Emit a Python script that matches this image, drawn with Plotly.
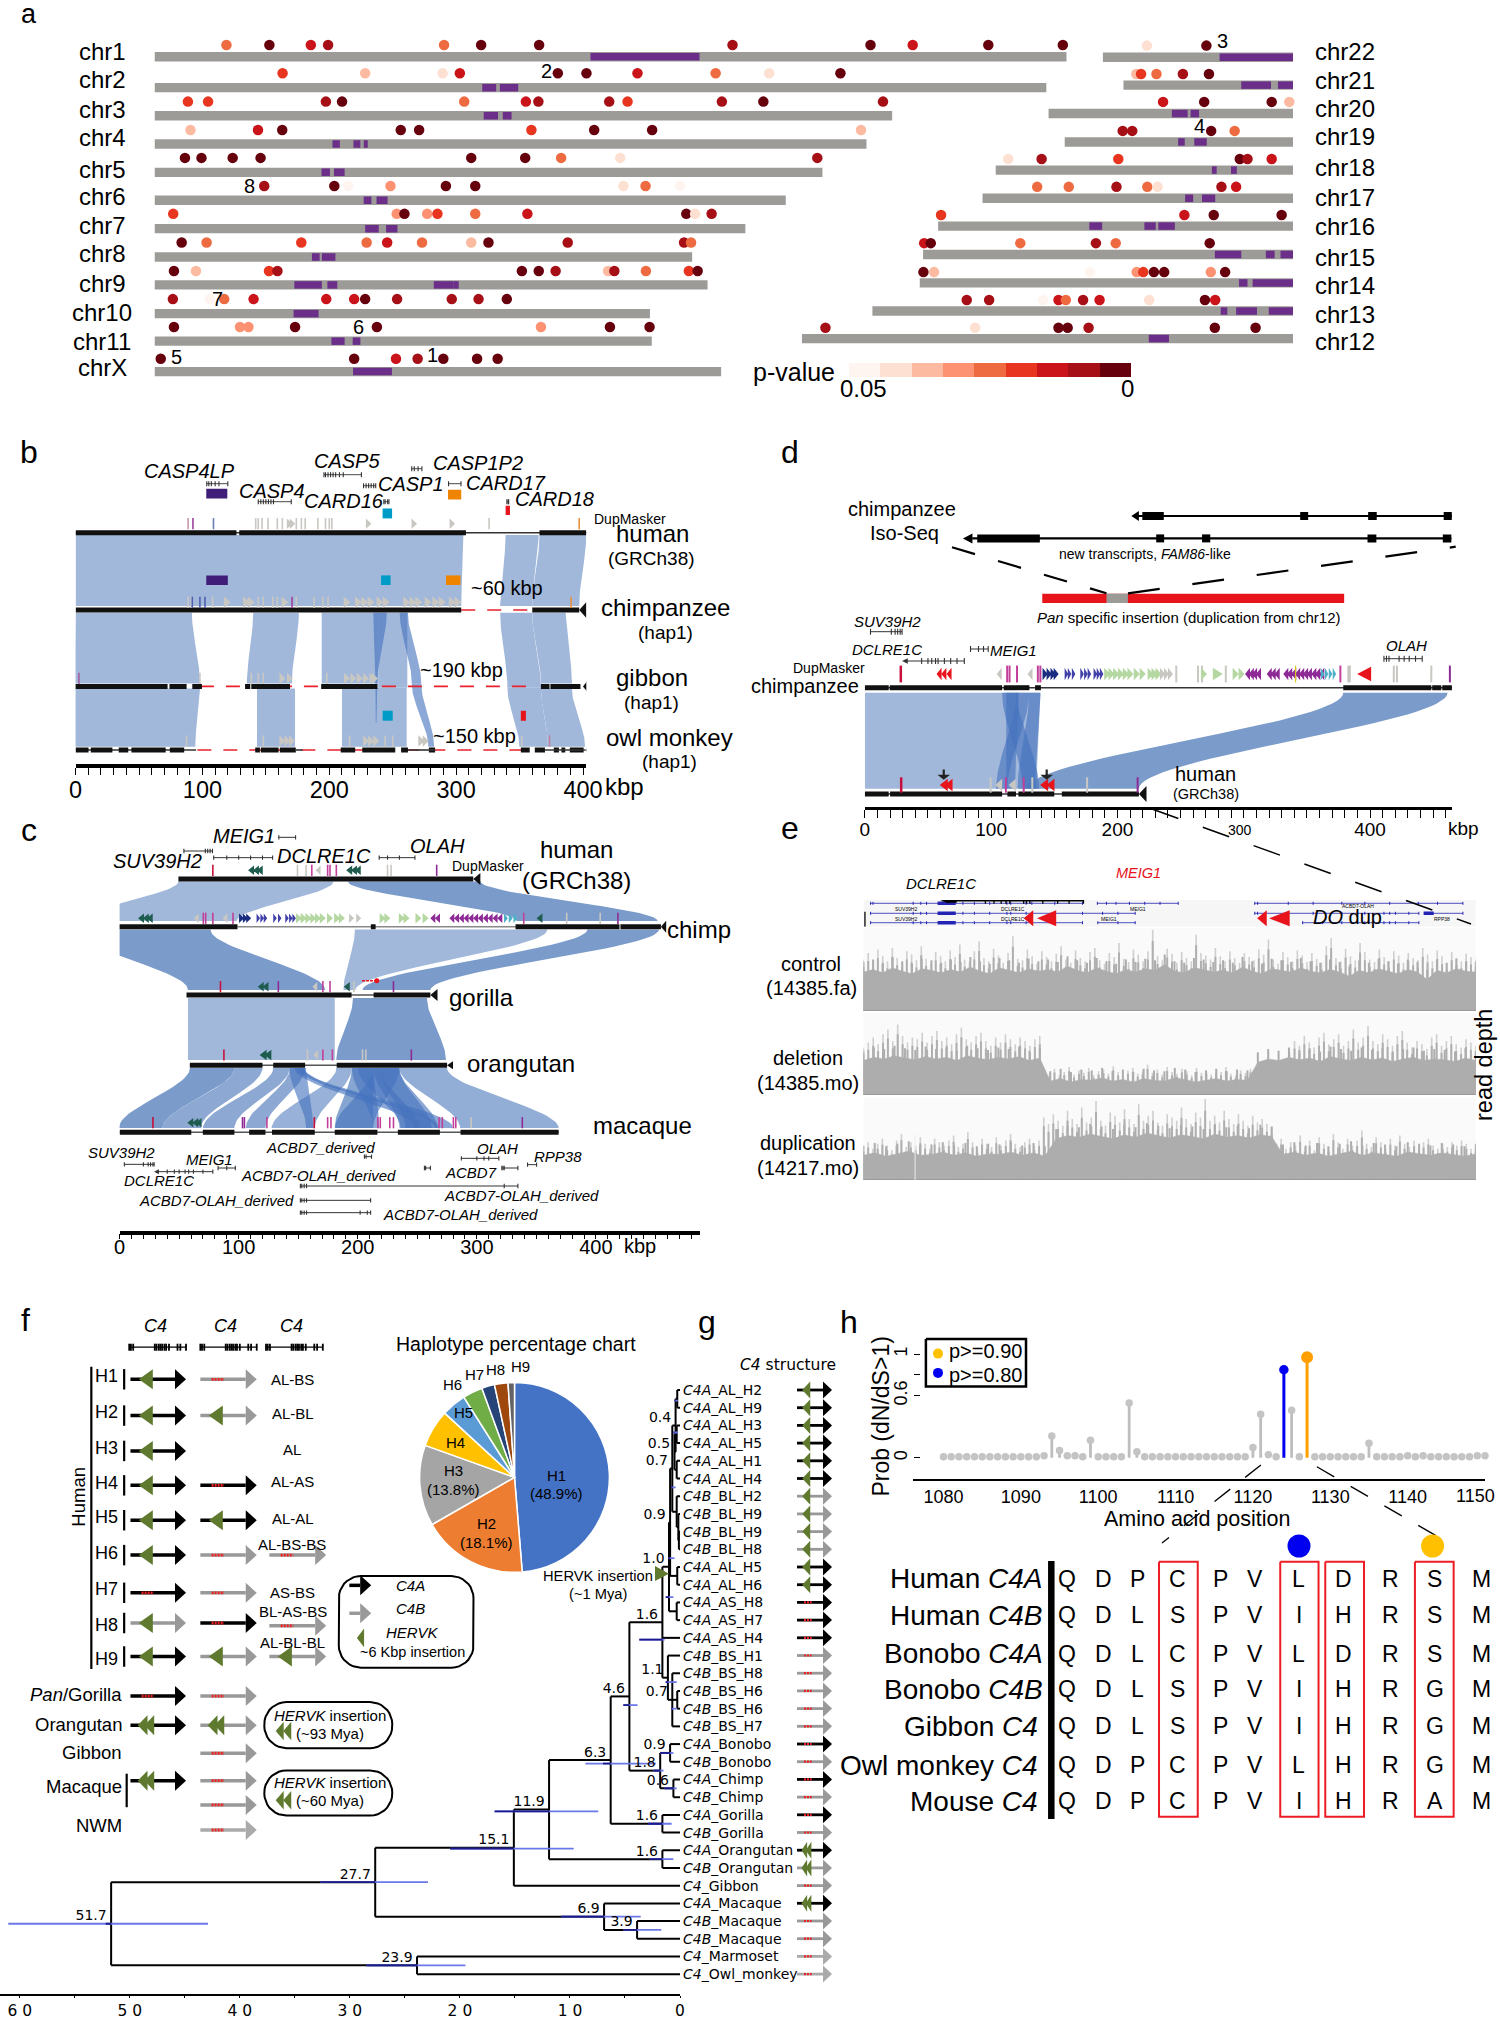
import numpy as np
import plotly.graph_objects as go

W, H = 1500, 2019
SANS = "Liberation Sans"
WIDE = "DejaVu Sans"
GREY_BAR = "#9C9B97"
PURPLE = "#6B2F8A"
LIGHT = "#A1B8DB"
MID = "#7B9CCB"
CROSS = "rgba(70,115,190,0.62)"
TICK_GREY = "#C9C7C2"
CRIMSON = "#C8103C"
PINK = "#C2409A"
DTEAL = "#1E5C50"
NAVY = "#1A2C80"
BLUE2 = "#4040A8"
GREEN2 = "#B5D8A2"
PURP2 = "#8E2A96"
CYAN2 = "#50B0C8"
RED = "#E8141C"

# ---------------- panel a data ----------------
REDS = ["#fff5f0", "#fee0d2", "#fcbba1", "#fc9272", "#ee6a41", "#e8351f", "#cb141a", "#a50f15", "#67000d"]

left_names = ["chr1", "chr2", "chr3", "chr4", "chr5", "chr6", "chr7", "chr8", "chr9", "chr10", "chr11", "chrX"]
left_len = [248.5, 243, 201, 194, 182, 172, 161, 146.5, 150.7, 135, 135.5, 154.4]
left_row = [0, 1.09, 2.08, 3.07, 4.07, 5.05, 6.05, 7.05, 8.03, 9.04, 10.01, 11.08]
left_dot_row = [-.41, .58, 1.58, 2.58, 3.56, 4.55, 5.53, 6.54, 7.54, 8.53, 9.51, 10.63]
left_pos = [
    [19.6, 31.3, 42.6, 47.3, 78.9, 89, 104.8, 157.5, 195.1, 206.6, 227.2, 247.5],
    [34.9, 57.4, 78.5, 83.2, 109.9, 117.7, 131.6, 152.9, 167.5, 186.9],
    [9.1, 14.6, 46.7, 51.1, 84.4, 101.2, 104.6, 123.9, 128.9, 154.6, 165.9, 198.5],
    [9.8, 28.2, 34.8, 67.1, 72.1, 102.7, 119.8, 135.6, 192.5],
    [8.3, 12.8, 21.3, 28.9, 86.3, 101, 110.8, 126.9, 180.6],
    [29.9, 49, 52.8, 64.3, 79.4, 87.4, 127.8, 133.8, 143.2],
    [5.1, 66, 68.1, 74.3, 77.1, 87.4, 101.6, 144.9, 147.3, 151.8],
    [7.4, 14.2, 40, 57.8, 63.4, 72.9, 86.3, 91, 112.6, 144.3, 146.2],
    [5.3, 11.3, 31.2, 33.5, 100.1, 104.7, 109.3, 123.6, 125.3, 133.9, 145.6, 148],
    [5, 15.1, 19, 27, 46.8, 54.4, 57.4, 66.1, 81, 88.3, 96],
    [5.3, 23.3, 25.6, 38.3, 60.6, 105.3, 124.1, 134.9],
    [1.7, 54.4, 65.8, 71.7, 78.7, 87.9, 93.5],
]
left_p = [
    [.025, .003, .014, .008, .025, .003, .003, .008, .003, .014, .003, .003],
    [.019, .036, .042, .014, .003, .003, .014, .025, .042, .003],
    [.019, .019, .008, .003, .025, .014, .008, .008, .019, .008, .003, .008],
    [.036, .014, .003, .003, .003, .019, .003, .003, .036],
    [.003, .003, .003, .003, .003, .003, .025, .042, .008],
    [.008, .003, .047, .031, .003, .003, .042, .025, .047],
    [.019, .031, .003, .031, .019, .025, .014, .003, .042, .008],
    [.003, .025, .019, .025, .014, .025, .036, .003, .008, .008, .025],
    [.003, .036, .019, .008, .003, .003, .008, .036, .008, .025, .019, .003],
    [.008, .047, .025, .014, .014, .014, .003, .008, .008, .008, .003],
    [.003, .031, .031, .003, .003, .031, .003, .003],
    [.003, .003, .014, .008, .003, .003, .003],
]
left_seg = [
    [(118.8, 148.5)], [(89.3, 93.1), (94.1, 99.1)], [(89.7, 93.6), (94.9, 97.3)],
    [(48.5, 50.5), (54.2, 56.1), (57, 58.1)], [(45.5, 47.8), (48.9, 51.8)], [(57, 59.1), (60.5, 63.5)],
    [(57.4, 61.1), (63.1, 66.2)], [(42.9, 45), (45.6, 49.3)],
    [(38.1, 45.6), (47.1, 49.8), (76.1, 81.4), (81.4, 82.9)], [(37.9, 44.7)], [(48.2, 51.8), (54, 56.1)], [(54.1, 64.7)],
]
right_names = ["chr22", "chr21", "chr20", "chr19", "chr18", "chr17", "chr16", "chr15", "chr14", "chr13", "chr12"]
right_len = [51.8, 46.2, 66.6, 62.2, 81, 84.6, 96.7, 100.8, 101.7, 114.6, 133.8]
right_row = [.02, 1.0, 2.0, 3.0, 3.99, 4.98, 5.96, 6.96, 7.96, 8.95, 9.92]
right_dot_row = [-.39, .61, 1.59, 2.61, 3.6, 4.58, 5.57, 6.56, 7.58, 8.56, 9.54]
right_pos = [
    [12, 28.2], [3.5, 4.8, 9, 16.2, 23.3], [31.2, 42.4, 60.8, 65.6], [15.8, 18.4, 39.9, 46.3],
    [3.4, 12.5, 33.4, 66.5, 68.6, 75.2], [14.9, 23.5, 36.5, 44.9, 47.7, 65.1, 69.1], [.8, 67.1, 75.1, 93.6],
    [.3, 2.1, 26.5, 47.1, 52.5, 78.1], [1, 3.9, 46.4, 59.1, 60.9, 63.8, 66.6, 79.3, 83.2],
    [25.7, 31.8, 46.5, 50.7, 52.7, 57.4, 61.9, 75.4, 90.6, 93.4], [6.4, 47.2, 69.9, 72.4, 78.1, 112.5, 123.6],
]
right_p = [
    [.042, .003], [.036, .019, .025, .008, .003], [.014, .003, .003, .036], [.008, .008, .003, .025],
    [.042, .008, .019, .003, .008, .014], [.025, .025, .008, .025, .042, .008, .014], [.019, .014, .003, .003],
    [.014, .003, .025, .008, .025, .003], [.003, .036, .047, .031, .019, .003, .003, .031, .003],
    [.008, .008, .047, .014, .025, .008, .014, .042, .003, .014], [.008, .042, .003, .003, .008, .003, .003],
]
right_seg = [
    [(31.8, 52)], [(32.1, 40.2), (42.1, 46.4)], [(33.6, 37.9), (38.7, 41)], [(30.9, 32.7), (35.3, 38.7)],
    [(58.9, 60.2), (64.1, 65.7)], [(55.2, 57.4), (59.8, 63.4)], [(41.2, 44.7), (56.2, 59.3), (60, 64.5)],
    [(79.5, 86.7), (93.4, 95.8), (97.4, 101)], [(87, 89.3), (90.7, 102)], [(94.9, 96.7), (99.1, 104.8), (108, 114.9)],
    [(94.5, 100)],
]

# ---------------- panel e read depth (percent of track height, read by eye) ----------------
control_peak = [62,70,58,74,66,60,76,64,58,72,68,61,78,63,57,71,66,60,73,65,80,62,59,72,84,64,60,75,67,58,70,90,63,61,74,66,57,72,65,60,69,78,62,58,73,64,60,71,76,61,57,70,65,82,63,59,74,68,60,72,98,66,61,75,69,58,71,64,60,92,70,67,62,76,66,60,72,64,58,70,65,61,74,68,86,62,57,71,65,60,73,67,59,70,63,58,78,88,64,60,75,66,61,82,71,62,59,74,65,60,72,67,58,70,64,61,76,68,60,73,66,58,71,64,60,69,65,62]
control_floor = [47,50,46,52,48,45,51,49,46,50,47,53,48,45,52,49,46,51,48,50,47,54,49,46,52,48,45,50,47,51,49,56,48,46,52,50,47,49,46,53,48,45,51,49,47,52,48,46,50,47,42,49,46,51,48,45,50,47,38,49,46,51,48,47]
deletion_peak = [58,64,70,62,74,80,66,86,72,64,70,68,76,64,72,78,66,70,62,74,82,68,64,72,76,66,60,70,64,74,68,62,70,66,60,68,72,30,26,32,24,28,34,25,30,27,33,24,29,31,26,35,28,24,30,33,26,29,37,27,31,25,34,28,26,32,29,24,33,27,30,25,31,28,34,26,24,30,27,32,25,29,35,26,28,24,31,52,66,60,72,64,58,70,76,62,68,74,60,66,80,64,70,84,66,62,74,68,60,72,78,64,58,66,62,56,70,74,60,66,72,62,58,68,64,60]
deletion_floor = [42,46,44,48,45,43,47,44,46,42,48,45,43,46,44,47,42,45,17,20,16,19,18,21,17,19,16,20,18,17,21,19,16,18,20,17,19,18,40,44,42,46,43,45,41,47,44,42,46,43,45,41,44,46,42,44,43,41,45,42]
duplication_peak = [40,46,38,44,50,42,36,48,56,40,46,42,52,44,38,50,46,42,48,54,40,44,58,46,38,50,44,40,52,42,48,56,44,40,46,50,42,48,76,68,80,72,66,84,74,68,88,70,76,96,72,66,82,78,70,86,74,68,92,72,78,84,70,66,80,76,72,88,74,68,82,76,98,72,78,70,84,74,68,80,72,66,78,70,74,68,64,44,50,38,46,42,54,40,48,36,52,44,40,56,46,38,50,42,48,60,44,40,52,46,38,50,42,54,44,40,48,36,46,50,42,38,44,40,46,42,48,44,38,42]
duplication_floor = [30,33,29,32,35,30,31,34,30,33,29,32,31,34,30,33,29,50,54,52,56,53,50,55,52,57,54,51,55,53,50,56,52,54,51,55,53,31,34,30,33,29,32,35,30,33,31,29,34,32,30,33,31,29,32]

# ---------------- panel f/g data ----------------
pie_labels = ["H1", "H2", "H3", "H4", "H5", "H6", "H7", "H8", "H9"]
pie_values = [48.9, 18.1, 13.8, 6.4, 4.2, 3.4, 2.2, 2.3, 1.1]
pie_colors = ["#4472C4", "#ED7D31", "#A5A5A5", "#FFC000", "#5B9BD5", "#70AD47", "#264478", "#9E480E", "#636363"]
leaf_names = ["<i>C4A</i>_AL_H2", "<i>C4A</i>_AL_H9", "<i>C4A</i>_AL_H3", "<i>C4A</i>_AL_H5", "<i>C4A</i>_AL_H1", "<i>C4A</i>_AL_H4",
              "<i>C4B</i>_BL_H2", "<i>C4B</i>_BL_H9", "<i>C4B</i>_BL_H9", "<i>C4B</i>_BL_H8", "<i>C4A</i>_AL_H5", "<i>C4A</i>_AL_H6",
              "<i>C4A</i>_AS_H8", "<i>C4A</i>_AS_H7", "<i>C4A</i>_AS_H4", "<i>C4B</i>_BS_H1", "<i>C4B</i>_BS_H8", "<i>C4B</i>_BS_H6",
              "<i>C4B</i>_BS_H6", "<i>C4B</i>_BS_H7", "<i>C4A</i>_Bonobo", "<i>C4B</i>_Bonobo", "<i>C4A</i>_Chimp", "<i>C4B</i>_Chimp",
              "<i>C4A</i>_Gorilla", "<i>C4B</i>_Gorilla", "<i>C4A</i>_Orangutan", "<i>C4B</i>_Orangutan", "<i>C4</i>_Gibbon",
              "<i>C4A</i>_Macaque", "<i>C4B</i>_Macaque", "<i>C4B</i>_Macaque", "<i>C4</i>_Marmoset", "<i>C4</i>_Owl_monkey"]
leaf_struct = ["AK"] * 6 + ["BK"] * 4 + ["AK"] * 2 + ["AS"] * 3 + ["BS"] * 5 + ["AS", "BS", "AS", "BS", "AS", "BS", "AKK", "BKK", "BS", "AKK", "BS", "BS", "LS", "LS"]
n_AL = (0.4, [(0.25, [0, 1]), (0.5, [(0.3, [2, 3]), (0.3, [4, 5])])])
n_BL = (0.3, [6, (0.15, [7, (0.1, [8, 9])])])
n_07 = (0.7, [n_AL, n_BL])
n_09 = (0.9, [n_07, (0.25, [10, 11])])
n_10 = (1.0, [n_09, (0.3, [12, 13])])
n_11 = (1.1, [15, (0.7, [16, (0.25, [17, 18]), 19])])
n_16 = (1.6, [n_10, 14, n_11])
n_18 = (1.8, [(0.9, [20, 21]), (0.6, [22, 23])])
n_46 = (4.6, [n_16, n_18])
n_63 = (6.3, [n_46, (1.6, [24, 25])])
n_119 = (11.9, [n_63, (1.6, [26, 27])])
n_151 = (15.1, [n_119, 28])
n_277 = (27.7, [n_151, (6.9, [29, (3.9, [30, 31])])])
tree_root = (51.7, [n_277, (23.9, [32, 33])])
ci_row = [30.15, 27.8, 25.9, 23.8, 21.1, 17.8, 29.75, 30.5, 32.5, 14.1, 21.5, 20.5, 22.5, 24.5, 26.5, 16.5, 18, 11.7, 9.5, 5.5, 2.4, .6]
ci_hi = [61.05, 32.7, 20.9, 16.85, 8.6, 5.15, 10.8, 5.15, 28.5, 3.7, 2.4, 1.8, 1.4, 2.9, 2.75, 1.3, .8, 1.3, 1.05, .8, .6, .5]
ci_dk = [52.2, 32.7, 20.9, 16.85, 7, 5.15, 10.8, 5.15, 28.5, 3.7, 2.4, 1.8, 1.4, 2.9, 2.75, 1.3, .8, 1.3, 1.05, .8, .6, .5]
ci_node = [51.7, 27.7, 15.1, 11.9, 6.3, 4.6, 6.9, 3.9, 23.9, 1.6, 1.8, .9, .6, 1.6, 1.6, 1.1, .7, 1.0, .9, .7, .5, .4]
ci_lo = [42.9, 22.9, 9.66, 7.43, 2.2, 3.86, 3.57, 1.7, 19.5, 1.4, 1.5, .6, .3, .76, .6, .3, .3, .6, .5, .4, .2, .2]

# ---------------- panel h data ----------------
aa_pos = list(range(1080, 1151))
aa_prob = [.01,.01,.01,.01,.01,.01,.01,.01,.01,.01,.01,.01,.01,.02,.21,.07,.02,.02,.01,.17,.01,.01,.01,.01,.53,.06,.01,.01,.01,.01,
           .01,.01,.01,.01,.01,.01,.01,.01,.01,.01,.10,.42,.03,.01,.85,.46,.01,.97,.01,.01,.01,.01,.01,.01,.01,.14,.01,.01,.01,.01,
           .02,.01,.02,.01,.01,.01,.01,.01,.01,.02,.02]
aln_species = ["Human <i>C4A</i>", "Human <i>C4B</i>", "Bonobo <i>C4A</i>", "Bonobo <i>C4B</i>", "Gibbon <i>C4</i>", "Owl monkey <i>C4</i>", "Mouse <i>C4</i>"]
aln_seq = ["QDPCPVLDRSM", "QDLSPVIHRSM", "QDLCPVLDRSM", "QDLSPVIHRGM", "QDLSPVIHRGM", "QDPCPVLHRGM", "QDPCPVIHRAM"]

# ---------------- helpers ----------------
tr, anns, layout_axes = [], [], {}
_axn = [1]


def make_axes(px0, px1, py0, py1, xr, yr, xa=None, ya=None):
    _axn[0] += 1
    i = _axn[0]
    x = dict(domain=[px0 / W, px1 / W], range=xr, anchor=f"y{i}", visible=False, fixedrange=True, showgrid=False, zeroline=False)
    y = dict(domain=[1 - py1 / H, 1 - py0 / H], range=yr, anchor=f"x{i}", visible=False, fixedrange=True, showgrid=False, zeroline=False)
    if xa:
        x.update(xa)
    if ya:
        y.update(ya)
    layout_axes[f"xaxis{i}"] = x
    layout_axes[f"yaxis{i}"] = y
    return (f"x{i}", f"y{i}")


def line(ax, xs, ys, color="black", width=1.5, dash=None):
    tr.append(go.Scatter(x=xs, y=ys, mode="lines", xaxis=ax[0], yaxis=ax[1], hoverinfo="skip", cliponaxis=False,
                         line=dict(color=color, width=width, dash=dash)))


def poly(ax, xs, ys, color):
    tr.append(go.Scatter(x=xs, y=ys, mode="lines", fill="toself", fillcolor=color, xaxis=ax[0], yaxis=ax[1], hoverinfo="skip",
                         cliponaxis=False, line=dict(width=0, color=color)))


def rect(ax, x0, x1, y0, y1, color):
    poly(ax, [x0, x1, x1, x0, x0], [y0, y0, y1, y1, y0], color)


def units_per_px(ax):
    a = layout_axes["xaxis" + ax[0][1:]]
    return abs(a["range"][1] - a["range"][0]) / ((a["domain"][1] - a["domain"][0]) * W)


def marks(ax, xs, y, color=TICK_GREY, symbol="line-ns", size=8, lw=1.6, w=None):
    if symbol.startswith("triangle"):
        u = units_per_px(ax)
        dx = (w if w else size * .55) * u
        hh = size * .52
        px, py = [], []
        for c in xs:
            if symbol == "triangle-right":
                px += [c - dx / 2, c + dx / 2, c - dx / 2, c - dx / 2, None]
            else:
                px += [c + dx / 2, c - dx / 2, c + dx / 2, c + dx / 2, None]
            py += [y - hh, y, y + hh, y - hh, None]
        poly(ax, px, py, color)
        return
    tr.append(go.Scatter(x=xs, y=[y] * len(xs), mode="markers", xaxis=ax[0], yaxis=ax[1], hoverinfo="skip", cliponaxis=False,
                         marker=dict(symbol=symbol, size=size, color=color, line=dict(color=color, width=lw if symbol == "line-ns" else 0))))


def ribbon(ax, a0, a1, ya, b0, b1, yb, color=LIGHT):
    t = np.linspace(0, 1, 36)
    s = t * t * (3 - 2 * t)
    yy = ya + (yb - ya) * t
    left = a0 + (b0 - a0) * s
    right = a1 + (b1 - a1) * s
    poly(ax, list(left) + list(right[::-1]) + [left[0]], list(yy) + list(yy[::-1]) + [yy[0]], color)


def row(ax, blocks, y, thick=5, thin=None, thin_color="#333333", color="#111111"):
    if thin:
        line(ax, thin, [y, y], thin_color, 1.6)
    xs, ys = [], []
    for a, b in blocks:
        xs += [a, b, None]
        ys += [y, y, None]
    line(ax, xs, ys, color, thick)


def end_tri(ax, tip, base, y, h, color="#111111"):
    poly(ax, [tip, base, base, tip], [y, y - h, y + h, y], color)


def gene(ax, x0, x1, y, exons=(), h=2.5, color="#333333", lw=1.1, arrow=None, tw=1.1):
    line(ax, [x0, x1], [y, y], color, lw)
    xs, ys = [], []
    for e in list(exons):
        xs += [e, e, None]
        ys += [y - h, y + h, None]
    if xs:
        line(ax, xs, ys, color, tw)
    if arrow is not None:
        end_tri(ax, arrow[0], arrow[1], y, arrow[2], color)


def T(px, py, s, size=15, anchor="center", color="black", font=SANS, angle=0):
    anns.append(dict(x=px / W, y=1 - py / H, xref="paper", yref="paper", text=s, showarrow=False, xanchor=anchor, yanchor="middle",
                     font=dict(size=size, color=color, family=font), textangle=angle, borderpad=0, borderwidth=0))


def zz(ox, oy, sx, sy):
    return lambda x, y: (ox + x / sx, oy + y / sy)


z1 = zz(0, 0, 2.09, 3)
z2 = zz(750, 0, 2.09, 3)
z3 = zz(0, 420, 2.09, 3)
z4 = zz(0, 810, 2.09, 3)
z5 = zz(750, 430, 2.09, 3)
z6 = zz(750, 800, 2.09, 3)
z7 = zz(0, 1290, 2.376, 2.15)
z8 = zz(640, 1290, 3, 2.15)
z9 = zz(840, 1290, 2.376, 2.8)

# ---------------- panel a ----------------
cs = []
for i, c in enumerate(REDS[::-1]):
    cs += [[i / 9, c], [(i + 1) / 9, c]]
SX = 3.67
ya_r = [(400 - 56.7) / 28.42, (20 - 56.7) / 28.42]
axL = make_axes(154.5, 1100, 20, 400, [0, 945.5 / SX], ya_r)
axR = make_axes(700, 1293, 20, 400, [-593 / SX, 0], ya_r)
BW = .33
tr.append(go.Bar(orientation="h", x=left_len, y=left_row, base=0, width=BW, marker=dict(color=GREY_BAR, line=dict(width=0)), xaxis=axL[0], yaxis=axL[1], hoverinfo="skip"))
sx, sb, sy_ = [], [], []
for i, seg in enumerate(left_seg):
    for a, b in seg:
        sx.append(b - a); sb.append(a); sy_.append(left_row[i])
tr.append(go.Bar(orientation="h", x=sx, y=sy_, base=sb, width=BW * .8, marker=dict(color=PURPLE, line=dict(width=0)), xaxis=axL[0], yaxis=axL[1], hoverinfo="skip"))
tr.append(go.Bar(orientation="h", x=right_len, y=right_row, base=[-v for v in right_len], width=BW, marker=dict(color=GREY_BAR, line=dict(width=0)), xaxis=axR[0], yaxis=axR[1], hoverinfo="skip"))
sx, sb, sy_ = [], [], []
for i, seg in enumerate(right_seg):
    for a, b in seg:
        sx.append(b - a); sb.append(a - right_len[i]); sy_.append(right_row[i])
tr.append(go.Bar(orientation="h", x=sx, y=sy_, base=sb, width=BW * .8, marker=dict(color=PURPLE, line=dict(width=0)), xaxis=axR[0], yaxis=axR[1], hoverinfo="skip"))
xs, ys, cc = [], [], []
for i in range(len(left_pos)):
    xs += left_pos[i]; ys += [left_dot_row[i]] * len(left_pos[i]); cc += left_p[i]
tr.append(go.Scatter(x=xs, y=ys, mode="markers", xaxis=axL[0], yaxis=axL[1], hoverinfo="skip", cliponaxis=False,
                     marker=dict(size=10.5, color=cc, colorscale=cs, cmin=0, cmax=.05, line=dict(width=0))))
xs, ys, cc = [], [], []
for i in range(len(right_pos)):
    xs += [p - right_len[i] for p in right_pos[i]]; ys += [right_dot_row[i]] * len(right_pos[i]); cc += right_p[i]
tr.append(go.Scatter(x=xs, y=ys, mode="markers", xaxis=axR[0], yaxis=axR[1], hoverinfo="skip", cliponaxis=False,
                     marker=dict(size=10.5, color=cc, colorscale=cs, cmin=0, cmax=.05, line=dict(width=0))))
axP = make_axes(849, 1131, 363, 377, [.05, 0], [-.5, .5])
bin_centers = [.05 * (8.5 - i) / 9 for i in range(9)]
tr.append(go.Heatmap(z=[bin_centers], x=bin_centers, y=[0], colorscale=cs, zmin=0, zmax=.05, showscale=False, xaxis=axP[0], yaxis=axP[1], hoverinfo="skip"))
lab_ly = [51.7, 80, 109.3, 138, 169, 197, 225.3, 253.7, 284, 312.7, 341.3, 367.7]
for n, y in zip(left_names, lab_ly):
    T(102, y, n, 24)
lab_ry = [51.7, 80.3, 108.3, 136.7, 167.3, 197.7, 226.7, 257, 285.3, 314, 341.7]
for n, y in zip(right_names, lab_ry):
    T(1345, y, n, 24)
for f, x, y, s in [(z1, 903, 1065, "1"), (z1, 1142, 212, "2"), (z2, 988, 124, "3"), (z2, 940, 378, "4"), (z1, 368, 1070, "5"), (z1, 750, 982, "6"), (z1, 455, 897, "7"), (z1, 522, 558, "8")]:
    T(*f(x, y), s, 20)
T(*z2(92, 1115), "p-value", 25)
T(*z2(237, 1165), "0.05", 24)
T(*z2(790, 1165), "0", 24)

# ---------------- panel b ----------------
tick10 = lambda end: list(range(0, end + 1, 10))
def ax_x(end, size, labels=(0, 100, 200, 300, 400), ticklen=7.7, lw=3.5, standoff=0):
    vals = tick10(end)
    return dict(visible=True, showline=True, linecolor="black", linewidth=lw, ticks="outside", ticklen=ticklen, tickwidth=1, tickcolor="black",
                tickvals=vals, ticktext=[str(v) if v in labels else "" for v in vals], tickfont=dict(size=size, family=SANS, color="black"), tickangle=0,
                ticklabelstandoff=standoff)

axB = make_axes(75.6, 586.3, 430, 764, [0, 402.6], [231.3, -102.7], xa=ax_x(400, 23.5, standoff=-6))
RB = [0, 77.3, 153.7, 217.3]
for a in [(0, 305.7, 2.3, 0, 304, 73.3), (339, 365, 2.3, 334.7, 360, 73.3), (365.7, 402.6, 2.3, 360, 397, 73.3),
          (0, 91.7, 80, -1, 98, 150.7), (140, 176, 80, 135, 170.5, 150.7), (194, 238.5, 80, 194, 238.5, 150.7), (238.5, 261.5, 80, 238.5, 261.5, 155),
          (334.7, 360, 80, 340.4, 366.8, 155), (360, 386.4, 80, 366.8, 391.3, 150.7),
          (-1, 98, 155.7, -1, 94.3, 214), (143, 173, 155.7, 143, 173, 214), (210, 261, 155, 210, 261, 214),
          (340.4, 366.8, 155, 349.8, 372.5, 214), (366.8, 391.3, 155.7, 372.5, 401.6, 214)]:
    ribbon(axB, a[0], a[1], a[2], a[3], a[4], a[5], LIGHT)
ribbon(axB, 234.7, 245.3, 80, 236.4, 237.8, 150.7, CROSS)
ribbon(axB, 236.4, 237.8, 150.7, 236.6, 237.2, 190, CROSS)
ribbon(axB, 255.5, 262, 80, 265, 272.5, 150.7, CROSS)
ribbon(axB, 265, 272.5, 150.7, 278, 282.6, 214, CROSS)
for row_y, x0, x1 in [(RB[1], 304, 360), (RB[2], 98, 355), (RB[3], 96, 352)]:
    line(axB, [x0, x1], [row_y, row_y], "#E8202C", 1.6, dash="14px,12px")
row(axB, [(0, 126.8), (129, 307.7), (365.7, 402.6)], RB[0], thin=[0, 402.6])
row(axB, [(0, 304), (360, 397)], RB[1])
row(axB, [(-1, 72.5), (74, 87.5), (92, 99.6), (133.6, 137.7), (138.5, 169), (193.6, 238)], RB[2])
row(axB, [(366.8, 373.6), (374.3, 398)], RB[2])
row(axB, [(0, 10.2), (12, 29), (34, 41.5), (44, 71), (74.3, 85.6), (141.6, 145.3), (146, 160), (161, 173.6), (209, 220.4), (226, 252), (256.6, 262), (278.5, 283.4), (351, 358), (362, 370), (377, 381), (383, 386), (389.6, 400.5)], RB[3], thick=5, thin=[0, 95])
line(axB, [173.6, 179], [RB[3], RB[3]], "#333333", 1.6)
line(axB, [262, 283.4], [RB[3], RB[3]], "#333333", 1.6)
line(axB, [370, 402], [RB[3], RB[3]], "#333333", 1.6)
end_tri(axB, 402.6, 408, RB[0], 9)
end_tri(axB, 397, 402.7, RB[1], 8)
end_tri(axB, 400, 405.5, RB[2], 9)
end_tri(axB, 402, 407.5, RB[3], 10)
for x0, x1, y0, y1, c in [(103, 119.6, -44, -34.3, "#3F1D78"), (242, 249.5, -24.3, -14.3, "#009BC6"), (293.6, 304, -43, -33.3, "#EE8400"), (339, 342.4, -27, -17.7, RED),
                          (103, 120, 42.7, 52.3, "#3F1D78"), (240.8, 248.3, 42.7, 52.3, "#009BC6"), (292, 303.4, 42.7, 52.3, "#EE8400"),
                          (242, 250, 178, 188, "#009BC6"), (351, 355, 178, 188, RED)]:
    rect(axB, x0, x1, y0, y1, c)
b_genes = [(103.4, 120, -49, [103.4, 105, 107, 110, 113, 120]), (195.8, 225.3, -58, [195.8, 197, 199, 201, 203, 205, 208, 211, 225.3]),
           (265, 273, -64, [265, 267, 270, 273]), (227, 236.6, -47, [227, 229, 231, 233, 235, 236.6]), (294, 303.8, -49, [294, 303.8]),
           (144, 170, -31, [144, 146, 148, 150, 152, 154, 156, 170]), (243, 247, -31, [243, 244, 246, 247]), (340, 341.4, -31, [340, 341, 341.4])]
for g in b_genes:
    gene(axB, g[0], g[1], g[2], g[3], h=2.5, lw=.9)
marks(axB, [142, 144, 147, 151.7, 159, 163, 174, 178, 181, 191, 197, 200, 202, 326], -9)
marks(axB, [168.7, 171, 231, 267, 297], -9, symbol="triangle-right", size=10)
marks(axB, [88.7], -9, "#C899A8"); marks(axB, [92.5], -9, "#A040A0"); marks(axB, [108.7], -9, "#6780B0"); marks(axB, [397], -9, "#E89040")
marks(axB, [88.7, 91.3, 108, 144, 148, 155.5, 159, 174, 188, 195, 199], RB[1] - 7.7)
marks(axB, [92, 98, 102], RB[1] - 7.7, "#5060B0"); marks(axB, [170.6], RB[1] - 7.7, "#A040A0"); marks(axB, [390.6], RB[1] - 7.7, "#E89040")
marks(axB, [119.6, 134.7, 138.5, 165, 214, 223, 228, 233, 240, 245, 261, 266, 270.6, 278, 284, 289, 297, 301.5], RB[1] - 7.7, symbol="triangle-right", size=11, w=7)
marks(axB, [2.6], RB[2] - 8, "#A060A0"); marks(axB, [98, 138.5, 144, 148, 198], RB[2] - 8)
marks(axB, [163, 169, 214, 219, 224, 229, 234, 236], RB[2] - 8, symbol="triangle-right", size=11, w=6)
marks(axB, [87.5, 148, 216, 244, 250, 351.7], RB[3] - 9); marks(axB, [373.6], RB[3] - 9, "#C080A0")
marks(axB, [163, 167, 170.6, 229, 233, 237, 272.5, 276], RB[3] - 9, symbol="triangle-right", size=11, w=6)
for x, y, s in [(396, 152, "CASP4LP"), (725, 122, "CASP5"), (998, 130, "CASP1P2"), (568, 212, "CASP4"), (860, 192, "CASP1"), (1058, 188, "CARD17"), (718, 242, "CARD16"), (1158, 238, "CARD18")]:
    T(*z3(x, y), f"<i>{s}</i>", 20)
T(*z3(1317, 296), "DupMasker", 14)
for x, y, s, sz in [(1363, 342, "human", 24), (1362, 416, "(GRCh38)", 19), (1390, 563, "chimpanzee", 24), (1390, 638, "(hap1)", 19), (1363, 774, "gibbon", 24), (1362, 848, "(hap1)", 19), (1400, 952, "owl monkey", 24), (1400, 1025, "(hap1)", 19),
                    (1060, 503, "~60 kbp", 20), (965, 750, "~190 kbp", 20), (992, 948, "~150 kbp", 20), (1305, 1100, "kbp", 24)]:
    T(*z3(x, y), s, sz)

# ---------------- panel c ----------------
axC = make_axes(119.6, 699.5, 810, 1230.7, [0, 487], [351.7, -69], xa=ax_x(480, 20, ticklen=5, standoff=-9))
RC = [0, 47.7, 116, 186.3, 253.3]
ribbon(axC, 49.4, 179.5, 2.5, -38, 98.4, 42, LIGHT)
ribbon(axC, 191.6, 303.2, 2.5, 333.3, 451.8, 42, MID)
ribbon(axC, -39.4, 76.3, 50.5, 57.4, 172.7, 111, MID)
ribbon(axC, 197.6, 359.4, 50.5, 188, 198, 111, LIGHT)
ribbon(axC, 392.8, 453, 50.5, 204, 261, 111, MID)
ribbon(axC, 57.4, 180.7, 119, 57.4, 180.7, 181, LIGHT)
ribbon(axC, 196, 258.2, 119, 182, 274, 181, MID)
ribbon(axC, 59, 96.4, 189, -.8, 36.1, 249, MID)
ribbon(axC, 96.4, 120, 189, 36, 68.3, 249, "#8DA9D3")
ribbon(axC, 129, 143, 189, 70, 96.4, 249, "#8DA9D3")
ribbon(axC, 143, 155.8, 189, 106, 122.5, 249, "#8DA9D3")
ribbon(axC, 182, 195, 189, 127.7, 163.9, 249, "#98B1D8")
ribbon(axC, 195, 213, 189, 180.7, 212.9, 249, "#86A5D0")
ribbon(axC, 213, 235, 189, 235, 267, 249, "#8DA9D3")
ribbon(axC, 235, 275, 189, 286, 368.7, 249, "#92AED6")
for a in [(142.6, 156.6, 156.6, 162.6), (147, 155, 248, 268), (150, 155, 265, 280), (195, 213, 213, 218), (213, 235, 181, 213), (200, 218, 236, 252), (218, 235, 240, 262)]:
    ribbon(axC, a[0], a[1], 189, a[2], a[3], 249, CROSS)
row(axC, [(49.4, 297)], RC[0])
end_tri(axC, 297, 303, RC[0], 6)
row(axC, [(-42, 99), (211, 215), (332.5, 419.8), (420.6, 454.6)], RC[1], thin=[99, 333], thin_color="#888888")
end_tri(axC, 454.6, 459, RC[1], 6)
row(axC, [(56.2, 194.8), (213.3, 261)], RC[2], thin=[194, 214], thin_color="#555555")
end_tri(axC, 261, 267, RC[2], 6)
row(axC, [(59, 120), (129, 155.8), (182.3, 275)], RC[3], thin=[59, 275], thin_color="#555555")
end_tri(axC, 275, 280, RC[3], 4)
row(axC, [(0, 60.2), (69.9, 96.4), (108.8, 122.5), (128, 163.9), (180.7, 216.5), (233.7, 269), (286.3, 368.7)], RC[4], thin=[0, 368.7], thin_color="#555555")
yc = lambda z: (z - 207) / 3
for x0, x1, zy, ex, arr in [(54, 78, 123, [54, 72, 74, 76, 78], None), (133.7, 147.8, 82, [133.7, 147.8], None), (79, 128.5, 143, [79, 90, 100, 110, 120, 128.5], None), (218, 248, 143, [218, 225, 235, 248], None),
                            (4, 29, 1063, [4, 20, 24, 26, 28, 29], None), (32, 78.3, 1085, [40, 46, 50, 55, 58, 62, 70, 78.3], (29, 33, 2.5)), (82.7, 97.2, 1074, [82.7, 90, 97.2], None),
                            (205.6, 211.6, 1040, [205.6, 207, 211.6], None), (256, 261, 1074, [256, 257, 261], None), (287, 318.5, 1045, [287, 300, 306, 310, 318.5], None), (321, 334.5, 1074, [321, 322, 323, 334.5], None),
                            (342.6, 350.2, 1064, [342.6, 350.2], None), (151.8, 334.5, 1128, [151.8, 153, 155, 157, 323, 334.5], None), (151.8, 210.8, 1171, [151.8, 153, 155, 157, 210.8], None), (151.8, 210.8, 1208, [151.8, 153, 155, 157, 202, 208, 210.8], None)]:
    gene(axC, x0, x1, yc(zy), ex, h=2.2, lw=1, arrow=arr)
marks(axC, [78.3], -8.7, CRIMSON, size=8); marks(axC, [110.4, 114.5, 117.7, 192.8, 196.8, 200], -8.7, DTEAL, "triangle-left", 9, w=6)
marks(axC, [149.4, 156.6, 225, 228], -8.7); marks(axC, [166.7], -8.7, TICK_GREY, "triangle-left", 9); marks(axC, [161.4, 174.7, 176.7, 182], -8.7, PINK, size=8); marks(axC, [266.3], -8.7, PURP2, size=8)
y1 = 39.3
line(axC, [-14, -14], [y1 - 4, y1 + 4], CRIMSON, 2)
marks(axC, [18, 22, 25.3, 352.6], y1, DTEAL, "triangle-left", 9, w=6)
marks(axC, [64.3, 88.4], y1, TICK_GREY, "triangle-left", 9); marks(axC, [70.3, 72.3, 78.3, 95.2, 339.4], y1, PINK, size=8)
marks(axC, [102.4, 105.6, 108.4], y1, NAVY, "triangle-right", 9); marks(axC, [116.5, 119.7, 122.5, 130.5, 134.5, 140.6, 143.8, 146.6], y1, BLUE2, "triangle-right", 9, w=3.5)
marks(axC, [150.6, 154.6, 158.6, 162.7, 166.7, 170.7, 176.7, 182.7, 186.7, 220.9, 224.9, 237, 241, 251, 257], y1, GREEN2, "triangle-right", 10, w=6)
marks(axC, [194.8, 200.8], y1, TICK_GREY, "triangle-right", 9); marks(axC, [263, 267, 279, 283, 287, 291, 295, 299, 303, 307.2, 311.2, 315.3, 319.3], y1, PURP2, "triangle-left", 9, w=5)
marks(axC, [324.5, 328.5, 332.5], y1, CYAN2, "triangle-right", 9, w=4); marks(axC, [375.5, 403.6], y1); marks(axC, [418.5], y1, PURP2, size=8)
y2 = 107.7
marks(axC, [84.7], y2, CRIMSON, size=8); marks(axC, [118.5, 122.5, 190.8], y2, DTEAL, "triangle-left", 9, w=6); marks(axC, [133.3, 230], y2, PURP2, size=8); marks(axC, [163.9], y2, TICK_GREY, "triangle-left", 9); marks(axC, [170.7, 176.7], y2, PINK, size=8); marks(axC, [196.8], y2)
line(axC, [203.6, 216], [101.7, 101.7], RED, 1.6, dash="3px,1px"); marks(axC, [216], 101.7, RED, "circle", 5)
y3 = 176
marks(axC, [87.6], y3, CRIMSON, size=8); marks(axC, [120.5, 124.5], y3, DTEAL, "triangle-left", 10, w=7); marks(axC, [157.8, 204, 206.8], y3); marks(axC, [164.7], y3, TICK_GREY, "triangle-left", 9); marks(axC, [170.7, 178.7], y3, PINK, size=8); marks(axC, [245], y3, PURP2, size=8)
y4 = 243.7
marks(axC, [28], y4, CRIMSON, size=8); marks(axC, [59.4, 63.5, 66.3], y4, DTEAL, "triangle-left", 9, w=6); marks(axC, [103.2, 104.8, 338.2], y4, PURP2, size=8)
marks(axC, [123.7, 174.7, 177.5, 216.9, 218.9, 226.9, 230, 268.3, 271, 280.3, 282.3], y4, PINK, size=8); marks(axC, [163.5], y4, CRIMSON, size=8); marks(axC, [295.2], y4)
for x, y, s, sz in [(330, 153, "SUV39H2", 20), (510, 78, "MEIG1", 20), (678, 137, "DCLRE1C", 20), (915, 107, "OLAH", 20),
                    (253, 1027, "SUV39H2", 15), (437, 1047, "MEIG1", 15), (670, 1012, "ACBD7_derived", 15), (1040, 1015, "OLAH", 15), (1167, 1038, "RPP38", 15), (333, 1112, "DCLRE1C", 15),
                    (665, 1096, "ACBD7-OLAH_derived", 15), (985, 1088, "ACBD7", 15), (1090, 1157, "ACBD7-OLAH_derived", 15), (453, 1170, "ACBD7-OLAH_derived", 15), (962, 1213, "ACBD7-OLAH_derived", 15)]:
    T(*z4(x, y), f"<i>{s}</i>", sz)
for x, y, s, sz in [(1020, 168, "DupMasker", 14), (1205, 118, "human", 24), (1205, 212, "(GRCh38)", 24), (1460, 360, "chimp", 24), (1007, 562, "gorilla", 24), (1088, 760, "orangutan", 24), (1342, 946, "macaque", 24), (1337, 1308, "kbp", 20)]:
    T(*z4(x, y), s, sz)

# ---------------- panel d ----------------
axD = make_axes(864.8, 1451.9, 430, 807.3, [0, 464.8], [119.6, -257.7], xa=ax_x(460, 19, labels=(0, 100, 200, 400), ticklen=7.7, lw=2.5, standoff=-5))
RD = [0, 106.3]
ribbon(axD, 0, 139, 5, 0, 136, 101, LIGHT)
ribbon(axD, 378.8, 461.4, 5, 128.8, 217, 101, MID)
for a in [(108.7, 120.5, 125, 138), (120, 130, 104, 113), (130, 139, 121, 135), (112, 122, 112, 119)]:
    ribbon(axD, a[0], a[1], 5, a[2], a[3], 101, CROSS)
row(axD, [(0, 18.9), (19.7, 108.7), (110, 130.3), (134.8, 139.4), (378.8, 448.5), (449.2, 456.4), (457.2, 465.2)], RD[0], thin=[0, 465])
end_tri(axD, 465.2, 470, RD[0], 8)
row(axD, [(0, 18.9), (20, 108.7), (112.9, 119.7), (121.6, 150), (156, 217)], RD[1], thin=[0, 217])
end_tri(axD, 217, 223, RD[1], 8)
Y1, Y2 = -171.7, -149.3
line(axD, [216, 464.8], [Y1, Y1], "black", 2.2)
for a, b in [(219.7, 236.7), (344.7, 351), (398.5, 405.3), (458.3, 464.8)]:
    rect(axD, a, b, Y1 - 4, Y1 + 4, "black")
end_tri(axD, 211, 217, Y1, 5, "black")
line(axD, [85, 464.4], [Y2, Y2], "black", 2.2)
for a, b in [(89, 138.6), (230.7, 237), (267, 273.5), (398, 405), (457.6, 464.4)]:
    rect(axD, a, b, Y2 - 4, Y2 + 4, "black")
end_tri(axD, 77.7, 85.2, Y2, 5, "black")
rect(axD, 140.5, 379.5, -94, -84.7, RED)
rect(axD, 191.3, 208.3, -94, -84.7, GREY_BAR)
gene(axD, 4.5, 29.5, -56, [4.5, 21, 24, 26, 28, 29.5], lw=1, h=3)
gene(axD, 33, 78.8, -26.7, [45, 50, 53, 56, 58, 63, 68, 73, 78.8], lw=1, h=3, arrow=(29.5, 34, 2.8))
gene(axD, 83.7, 97.7, -38.7, [83.7, 90, 94, 97.7], lw=1, h=3)
gene(axD, 411, 441.3, -29, [411, 413, 415, 423, 427, 431, 436, 441.3], lw=1, h=3)
yD = -13.7
marks(axD, [28.5], yD, CRIMSON, size=12, lw=2.5); marks(axD, [58.8, 62.6, 66.7], yD, RED, "triangle-left", 12, w=5); marks(axD, [395.3], yD, RED, "triangle-left", 14, w=14)
marks(axD, [106.4, 130.8], yD, TICK_GREY, "triangle-left", 12, w=5); marks(axD, [112.7, 114.6, 120.5, 137, 139, 376.5], yD, PINK, size=12, lw=2)
marks(axD, [382.8, 384, 418.8, 421.3, 246.6, 263.8, 267, 285.8, 448.5], yD, size=12, lw=2)
marks(axD, [142.7, 145.9, 149, 151.5], yD, NAVY, "triangle-right", 12, w=5); marks(axD, [159.6, 162.1, 165.3, 172, 175, 177.8, 182.5, 185, 187.5], yD, BLUE2, "triangle-right", 12, w=3.5)
marks(axD, [191.9, 195.3, 199, 202.8, 206.6, 210.3, 215.3, 220, 226.3, 229.4, 232.5, 268.5, 293.6, 298.3], yD, GREEN2, "triangle-right", 12, w=6)
marks(axD, [279.5], yD, GREEN2, "triangle-right", 12, w=10); marks(axD, [235.7, 238.8, 242], yD, TICK_GREY, "triangle-right", 12, w=5)
marks(axD, [303, 306, 308.6, 311.7, 320.2, 323.3, 326.5, 333.3, 336.4, 339.6, 342.7, 345.9, 349, 352, 355.5, 358.6, 361.8], yD, PURP2, "triangle-left", 12, w=5)
marks(axD, [341], yD, "#D8C820", size=12, lw=1.2)
marks(axD, [362.4, 365.6, 368.7, 371.8], yD, CYAN2, "triangle-right", 12, w=3.5); marks(axD, [463.2], yD, PURP2, size=12, lw=2)
yH = 97.3
marks(axD, [28.8], yH, CRIMSON, size=11, lw=2.5); marks(axD, [62.5, 66.3, 142, 147], yH, RED, "triangle-left", 12, w=8); marks(axD, [99.6, 132.6, 176], yH, size=11, lw=2)
marks(axD, [106, 116.7], yH, TICK_GREY, "triangle-left", 12, w=7); marks(axD, [111.7, 125.8], yH, PINK, size=11, lw=2); marks(axD, [216], yH, PURP2, size=11, lw=2)
for k in [62.5, 144]:
    line(axD, [k, k], [81.7, 89], "#222222", 2.2)
    poly(axD, [k - 5, k + 5, k, k - 5], [87, 87, 92, 87], "#222222")
for x, y, s, sz in [(288, 575, "SUV39H2", 15), (287, 658, "DCLRE1C", 15), (550, 662, "MEIG1", 15), (1372, 647, "OLAH", 15)]:
    T(*z5(x, y), f"<i>{s}</i>", sz)
for x, y, s, sz in [(318, 238, "chimpanzee", 20), (322, 310, "Iso-Seq", 20), (825, 373, "new transcripts, <i>FAM86</i>-like", 14), (918, 561, "<i>Pan</i> specific insertion (duplication from chr12)", 15),
                    (165, 714, "DupMasker", 14), (115, 768, "chimpanzee", 20), (953, 1032, "human", 20), (953, 1092, "(GRCh38)", 14.5)]:
    T(*z5(x, y), s, sz)
T(*z6(1492, 85), "kbp", 19)
T(*z6(1025, 90), "300", 14)

# ---------------- panel e ----------------
axE0 = make_axes(863.4, 1475.8, 900, 926.7, [0, 320], [26.7, 0])
rect(axE0, 0, 320, 0, 26.7, "#F6F6F6")
blue = "#2424B4"
for x0, x1, y, ex in [(3.75, 114.5, 3.3, [3.75, 5, 26, 30, 33, 52, 58, 66, 75, 77, 85, 88, 100, 114.5]), (122.25, 164.5, 3.3, [122.25, 127, 132, 139, 147, 155, 164.5]), (204.5, 313.25, 3.3, [204.5, 206, 222, 235, 250, 262, 275, 290, 300, 313.25]),
                      (3.75, 142, 13.3, [3.75, 26, 30, 33, 52, 58, 66, 75, 77, 85, 88, 100, 114.5, 125, 133, 142]), (204.5, 290.25, 13.3, [204.5, 206, 222, 235, 250, 262, 272, 275, 278, 285, 290.25]), (292.75, 313.25, 13.3, [313.25]),
                      (3.75, 114.5, 22.7, [3.75, 26, 30, 33, 52, 58, 66, 75, 77, 85, 88, 100, 114.5]), (122.5, 142, 22.7, [122.5, 133, 142]), (229.5, 290.25, 22.7, [229.5, 240, 250, 262, 272, 275, 278, 285, 290.25])]:
    gene(axE0, x0, x1, y, ex, color=blue, lw=.8, h=1.5, tw=1)
for y in [3.3, 13.3, 22.7]:
    line(axE0, [38.75, 48.25], [y, y], blue, 3.5)
line(axE0, [292.75, 298], [13.3, 13.3], blue, 3.5)
gene(axE0, 44, 115, .7, [63.75, 68.25, 72, 74.5, 76.5, 83.75, 85.25, 87, 93.75, 101.5, 107.5, 115], h=3, color="black", lw=1.4, tw=1.3)
end_tri(axE0, 40.25, 45, .7, 2.5, "black")
line(axE0, [43.25, 48.75], [.7, .7], "black", 4)
gene(axE0, 123, 142.5, -11.7, [123, 133, 142.5], h=5, color="#222222", lw=1.2)
for a, b in [(83.75, 88.75), (90.75, 100.75), (205.75, 210.75), (212, 222.75)]:
    end_tri(axE0, a, b, 18.3, 8, RED)
line(axE0, [0.8, .8], [-48, -18], "#333333", 1.6)
line(axE0, [.8, .8], [11.7, 26.7], "#333333", 1.6)
tiny = [(327, 327, "SUV39H2"), (327, 357, "SUV39H2"), (550, 327, "DCLRE1C"), (550, 357, "DCLRE1C"), (810, 327, "MEIG1"), (750, 357, "MEIG1"), (1270, 318, "ACBD7-OLAH"), (1447, 357, "RPP38")]
for x, y, s in tiny:
    T(*z6(x, y), s, 5)
T(*z6(400, 250), "<i>DCLRE1C</i>", 15)
T(*z6(812, 218), "<i>MEIG1</i>", 14.5, color=RED)
T(*z6(1248, 352), "<i>DO</i> dup", 20)
depth_tracks = [(928, 1011, control_peak, control_floor), (1013, 1095, deletion_peak, deletion_floor), (1097.7, 1180, duplication_peak, duplication_floor)]
for top, bot, pk, fl in depth_tracks:
    axT = make_axes(863.4, 1475.8, top, bot, [0, 320], [0, 100])
    rect(axT, 0, 320, 0, 100, "#FAFAFA")
    xp = np.linspace(0, 320, len(pk))
    xf = np.linspace(0, 320, len(fl))
    sxs, sys = [], []
    for a, b in zip(xp, pk):
        sxs += [a, a, None]
        sys += [0, b, None]
    line(axT, sxs, sys, "#CFCFCF", 1.6)
    sxs2, sys2 = [], []
    for a, b in zip(xp, pk):
        sxs2 += [a, a, None]
        sys2 += [0, b * .86, None]
    line(axT, sxs2, sys2, "#AFAFAF", 2.0)
    tr.append(go.Scatter(x=xf, y=fl, mode="lines", fill="tozeroy", fillcolor="#ADADAD", line=dict(width=.4, color="#ADADAD"), xaxis=axT[0], yaxis=axT[1], hoverinfo="skip"))
    sxs, sys = [], []
    for a, b in zip(xf, fl):
        sxs += [a, a, None]
        sys += [0, b + 12, None]
    line(axT, sxs, sys, "#ADADAD", 2)
    line(axT, [0, 320], [0, 0], "#999999", 1.8)
    if pk is duplication_peak:
        line(axT, [27, 27], [0, 55], "#EDEDED", 1)
for x, y, s in [(128, 492, "control"), (128, 565, "(14385.fa)"), (122, 775, "deletion"), (122, 848, "(14385.mo)"), (122, 1030, "duplication"), (122, 1103, "(14217.mo)")]:
    T(*z6(x, y), s, 20)
T(1484, 1065, "read depth", 23.5, angle=-90)

# ---------------- panel f/g tree ----------------
ages = [0, 5, 10, 15, 20, 25, 30, 35, 40, 45, 50, 55, 60]
age_xa = dict(visible=True, showline=True, linecolor="black", linewidth=2, ticks="outside", ticklen=2, tickwidth=1, tickcolor="black",
              tickvals=ages, ticktext=[(" ".join(str(a)) if a % 10 == 0 else "") for a in ages], tickfont=dict(size=15.5, family=WIDE, color="black"))
axTree = make_axes(0, 680, 1372.3, 1993.7, [61.8, 0], [34.1, -1], xa=age_xa)
tx, ty, lx, ly, ls = [], [], [], [], []


def walk(n):
    if isinstance(n, int):
        return 0.0, float(n)
    age, ch = n
    pts = [walk(c) for c in ch]
    y = (pts[0][1] + pts[-1][1]) / 2
    tx.extend([age, age, None])
    ty.extend([pts[0][1], pts[-1][1], None])
    for ca, cy in pts:
        tx.extend([age, ca, None])
        ty.extend([cy, cy, None])
    if age >= .4:
        lx.append(age + .4); ly.append(y); ls.append(f"{age:.1f}")
    return age, y


walk(tree_root)
line(axTree, tx, ty, "black", 2)
for r, hi, dk, nd, lo in zip(ci_row, ci_hi, ci_dk, ci_node, ci_lo):
    line(axTree, [hi, lo], [r, r], "#6A78E8", 1.8)
    line(axTree, [dk, nd], [r, r], "#1A1A8C", 1.8)
tr.append(go.Scatter(x=lx, y=ly, mode="text", text=ls, textposition="top left", textfont=dict(size=14, family=WIDE, color="black"), xaxis=axTree[0], yaxis=axTree[1], hoverinfo="skip", cliponaxis=False))
for i, s in enumerate(leaf_names):
    T(683, 1390 + 17.7 * i, s, 14, anchor="left", font=WIDE)

# ---------------- schematic glyphs on a page-sized axis ----------------
axS = make_axes(0, W, 0, H, [0, W], [H, 0])
GK = "#5F7A2E"


def garrow(x0, x1, y, kind, hw=11, hh=10, lw=3.5, tw=14):
    color = {"A": "black", "B": "#999999", "L": "#AAAAAA"}[kind[0]]
    ins = kind[1:]
    L = x1 - x0
    line(axS, [x0, x1 - hw], [y, y], color, lw)
    poly(axS, [x1, x1 - hw, x1 - hw, x1], [y, y - hh, y + hh, y], color)
    if ins == "S":
        line(axS, [x0 + .2 * L, x0 + .42 * L], [y, y], "#F02020", lw * .8, dash="2px,1px")
    elif ins == "K":
        c = x0 + .15 * L
        poly(axS, [c, c + tw, c + tw, c], [y, y - hh, y + hh, y], GK)
    elif ins == "KK":
        for c in (x0 + .13 * L, x0 + .25 * L):
            poly(axS, [c, c + tw * .7, c + tw * .7, c], [y, y - hh, y + hh, y], GK)


fy = lambda z: 1290 + z / 2.15
fx = lambda z: z / 2.376
C1, C2, C3 = (fx(310), fx(442)), (fx(476), fx(610)), (fx(640), fx(775))
hap_rows = [(192, "AK", "BS", None, None), (270, "AK", "BK", None, None), (346, "AK", None, None, None), (420, "AK", "AS", None, None), (495, "AK", "AK", None, None),
            (570, "AK", "BS", "BS", 570), (651, "AS", "BS", None, None), (716, "BK", "AS", "BS", 722), (788, "AK", "BK", "BK", 788),
            (873, "AS", "BS", None, None), (936, "AKK", "BKK", None, None), (996, None, "BS", None, None), (1055, "AKK", "BS", None, None), (1107, None, "BS", None, None), (1161, None, "LS", None, None)]
for zy, a, b, c, cy in hap_rows:
    if a:
        garrow(*C1, fy(zy), a)
    if b:
        garrow(*C2, fy(zy), b)
    if c:
        garrow(*C3, fy(cy), c)
for i, k in enumerate(leaf_struct):
    garrow(797, 832, 1390 + 17.7 * i, k, hw=9, hh=8.5, lw=2.8, tw=8)
for zx0, zx1 in [(307, 442), (476, 610), (632, 767)]:
    a, b = fx(zx0), fx(zx1)
    L = b - a
    gene(axS, a, b, fy(123), [a + L * q for q in (0, .03, .07, .45, .48, .52, .55, .58, .62, .65, .7, .85, .9, 1)], h=3.5, color="black", lw=1.2, tw=1.8)
line(axS, [fx(217), fx(217)], [fy(165), fy(815)], "black", 2.2)
for zy in [192, 270, 346, 420, 495, 570, 651, 716, 788]:
    line(axS, [fx(295), fx(295)], [fy(zy - 22), fy(zy + 22)], "black", 2.2)
line(axS, [fx(301), fx(301)], [fy(1040), fy(1112)], "black", 2.2)


def rbox(x0, x1, y0, y1, r=22, color="black", lw=2):
    th = np.linspace(0, np.pi / 2, 10)
    px = list(x1 - r + r * np.sin(th)) + list(x1 - r + r * np.cos(th)) + list(x0 + r - r * np.sin(th)) + list(x0 + r - r * np.cos(th))
    py = list(y0 + r - r * np.cos(th)) + list(y1 - r + r * np.sin(th)) + list(y1 - r + r * np.cos(th)) + list(y0 + r - r * np.sin(th))
    line(axS, px + [px[0]], py + [py[0]], color, lw)


rbox(fx(805), fx(1125), fy(615), fy(812), r=22)
rbox(fx(628), fx(932), fy(886), fy(985), r=22)
rbox(fx(628), fx(932), fy(1033), fy(1130), r=22)
garrow(fx(830), fx(882), fy(635), "A", hw=11, hh=10)
garrow(fx(830), fx(882), fy(695), "B", hw=11, hh=10)
poly(axS, [fx(848), fx(865), fx(865), fx(848)], [fy(748), fy(728), fy(768), fy(748)], GK)
for zy in (948, 1097):
    for c in (655, 673):
        poly(axS, [fx(c), fx(c + 19), fx(c + 19), fx(c)], [fy(zy), fy(zy - 20), fy(zy + 20), fy(zy)], GK)
poly(axS, [669, 655, 655, 669], [1573.7, 1566, 1581, 1573.7], GK)
# connectors between panels
line(axS, [952, 1106.5], [547.3, 593.3], "black", 2.2, dash="24px,24px")
line(axS, [1128, 1455.7], [593.3, 546.7], "black", 2.2, dash="32px,33px")
line(axS, [1152, 1471], [809, 924], "black", 1.5, dash="28px,26px")
line(axS, [1260.9, 1162], [1465, 1542.9], "black", 1.3, dash="20px,19px")
line(axS, [1316.9, 1435.5], [1466.8, 1535.4], "black", 1.3, dash="20px,19px")
# alignment table frames
line(axS, [1051.3, 1051.3], [1561, 1819], "black", 6.5)
for a, b in [(758, 850), (1046, 1137), (1153, 1245), (1366, 1458)]:
    x0, x1 = 840 + a / 2.376, 840 + b / 2.376
    line(axS, [x0, x1, x1, x0, x0], [1561.8, 1561.8, 1816.8, 1816.8, 1561.8], "#EE1C25", 2)
marks(axS, [1299], 1546, "#0000F0", "circle", 23)
marks(axS, [1432.6], 1546, "#FFC000", "circle", 23)
# lollipop legend frame
line(axS, [925.9, 1026, 1026, 925.9, 925.9], [1339, 1339, 1386.4, 1386.4, 1339], "black", 2.5)
marks(axS, [938], 1353.6, "#FFC000", "circle", 10)
marks(axS, [938], 1372.9, "#0000F0", "circle", 10)

for x, y, s in [(369, 78, "C4"), (535, 78, "C4"), (692, 78, "C4")]:
    T(*z7(x, y), f"<i>{s}</i>", 18)
T(*z7(1225, 116), "Haplotype percentage chart", 19.5)
for i, y in enumerate([185, 263, 340, 415, 489, 566, 642, 720, 793]):
    T(*z7(253, y), f"H{i + 1}", 18)
T(*z7(187, 445), "Human", 18.5, angle=-90)
for x, y, s in [(695, 192, "AL-BS"), (695, 266, "AL-BL"), (694, 343, "AL"), (694, 412, "AL-AS"), (695, 491, "AL-AL"), (694, 547, "AL-BS-BS"), (695, 650, "AS-BS"), (695, 692, "BL-AS-BS"), (694, 757, "AL-BL-BL")]:
    T(*z7(x, y), s, 15)
for y, s in [(869, "<i>Pan</i>/Gorilla"), (934, "Orangutan"), (995, "Gibbon"), (1068, "Macaque"), (1152, "NWM")]:
    T(*z7(290, y), s, 18.5, anchor="right")
for x, y, s, sz in [(975, 635, "<i>C4A</i>", 15), (975, 684, "<i>C4B</i>", 15), (980, 737, "<i>HERVK</i>", 15), (980, 778, "~6 Kbp insertion", 14.5),
                    (783, 914, "<i>HERVK</i> insertion", 15), (783, 954, "(~93 Mya)", 15), (783, 1058, "<i>HERVK</i> insertion", 15), (783, 1097, "(~60 Mya)", 15),
                    (1421, 615, "HERVK insertion", 14.7), (1420, 654, "(~1 Mya)", 14.7)]:
    T(*z7(x, y), s, sz)
for x, y, s in [(1323, 398, "H1"), (1323, 437, "(48.9%)"), (1155, 502, "H2"), (1155, 542, "(18.1%)"), (1078, 389, "H3"), (1078, 429, "(13.8%)"), (1082, 328, "H4"), (1102, 263, "H5"), (1076, 204, "H6"), (1127, 182, "H7"), (1178, 170, "H8"), (1236, 164, "H9")]:
    T(*z7(x, y), s, 15)
T(*z8(443, 162), "<i>C4</i> structure", 15.5, font=WIDE)
tr.append(go.Pie(labels=pie_labels, values=pie_values, sort=False, direction="clockwise", rotation=0, textinfo="none", hoverinfo="skip",
                 marker=dict(colors=pie_colors, line=dict(color="white", width=1.5)), domain=dict(x=[419.6 / W, 609.4 / W], y=[1 - 1572.8 / H, 1 - 1382 / H])))

# ---------------- panel h ----------------
k_h = 7.736
aa_ticks = list(range(1080, 1151, 10))
axH = make_axes(912.8, 1485, 1349, 1478.6, [1080 - (943.5 - 912.8) / k_h, 1150], [-.2, 1.05],
                xa=dict(visible=True, showline=True, linecolor="black", linewidth=2, ticks="outside", ticklen=6, tickcolor="rgba(0,0,0,0)", ticklabelstandoff=-5,
                        tickvals=aa_ticks, ticktext=[str(v) if v != 1150 else "" for v in aa_ticks], tickfont=dict(size=18, family=SANS, color="black")),
                ya=dict(visible=True, anchor="free", position=920 / W, showline=False, ticks="outside", ticklen=6, tickwidth=1.3, tickcolor="black",
                        tickvals=[0, .6, .8, 1], ticktext=["0", "0.6", "", "1"], tickangle=-90, tickfont=dict(size=18, family=SANS, color="black")))
T(1494.5, 1496, "1150", 18, anchor="right")
hi_blue, hi_orange = 1124, 1127
gx, gy = [], []
for p, v in zip(aa_pos, aa_prob):
    if p not in (hi_blue, hi_orange) and v >= .03:
        gx += [p, p, None]
        gy += [0, v, None]
line(axH, gx, gy, "#BEBEBE", 2.8)
bl = aa_prob[aa_pos.index(hi_blue)]
orv = aa_prob[aa_pos.index(hi_orange)]
line(axH, [hi_blue, hi_blue], [0, bl], "#0000F0", 3)
line(axH, [hi_orange, hi_orange], [0, orv], "#FFA000", 3)
tr.append(go.Scatter(x=[p for p in aa_pos if p not in (hi_blue, hi_orange)], y=[v for p, v in zip(aa_pos, aa_prob) if p not in (hi_blue, hi_orange)], mode="markers",
                     marker=dict(size=7.5, color="#C4C4C4"), xaxis=axH[0], yaxis=axH[1], hoverinfo="skip", cliponaxis=False))
tr.append(go.Scatter(x=[hi_blue], y=[bl], mode="markers", marker=dict(size=9.5, color="#0000F0"), xaxis=axH[0], yaxis=axH[1], hoverinfo="skip", cliponaxis=False))
tr.append(go.Scatter(x=[hi_orange], y=[orv], mode="markers", marker=dict(size=12, color="#FFA000"), xaxis=axH[0], yaxis=axH[1], hoverinfo="skip", cliponaxis=False))
T(*z9(345, 172), "p&gt;=0.90", 20)
T(*z9(345, 237), "p&gt;=0.80", 20)
T(1196.5, 1519, "Amino acid position", 21.5)
T(*z9(97, 355), "Prob (dN/dS&gt;1)", 23, angle=-90)
aln_y = [808, 910, 1018, 1118, 1222, 1330, 1432]
aln_x = [540, 625, 708, 802, 903, 985, 1090, 1197, 1308, 1413, 1525]
for zy, sp, seq in zip(aln_y, aln_species, aln_seq):
    px, py = z9(0, zy)
    T(1043 if sp.split()[0] in ("Human", "Bonobo") and "C4</i>" not in sp else 1038, py, sp, 28, anchor="right")
    for zx, ch in zip(aln_x, seq):
        T(z9(zx, 0)[0], py, ch, 23)

# panel letters
for px, py, s, sz in [(29, 14, "a", 27), (29, 452, "b", 32), (29, 830, "c", 32), (790, 452, "d", 32), (790, 828, "e", 32), (25, 1320, "f", 32), (707, 1322, "g", 32), (849, 1322, "h", 32)]:
    T(px, py, s, sz)

fig = go.Figure(tr)
fig.update_layout(width=W, height=H, margin=dict(l=0, r=0, t=0, b=0, autoexpand=False), paper_bgcolor="white", plot_bgcolor="rgba(0,0,0,0)", showlegend=False,
                  barmode="overlay", hovermode=False, font=dict(family=SANS, color="black"), annotations=anns, **layout_axes)
fig.write_html("out.html", config={"displayModeBar": False}, post_script="document.body.style.margin='0';")
